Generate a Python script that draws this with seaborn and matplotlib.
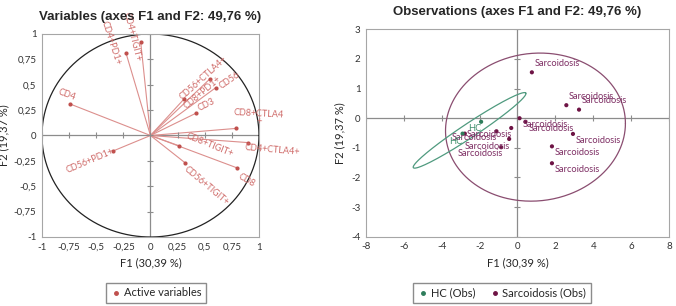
import numpy as np
import matplotlib
matplotlib.use("Agg")
import matplotlib.pyplot as plt
from matplotlib.lines import Line2D
import seaborn as sns

# correlation circle (variables)
var_names = ["CD4", "CD4+PD1+", "CD4+TIGIT+", "CD56+CTLA4+", "CD56", "CD8+PD1+", "CD3",
             "CD8+CTLA4\n+", "CD4+CTLA4+", "CD8+TIGIT+", "CD8", "CD56+TIGIT+", "CD56+PD1+"]
var_f1 = [-0.74, -0.225, -0.09, 0.55, 0.60, 0.31, 0.42, 0.79, 0.90, 0.26, 0.80, 0.32, -0.35]
var_f2 = [0.31, 0.81, 0.92, 0.56, 0.47, 0.36, 0.22, 0.07, -0.07, -0.10, -0.32, -0.27, -0.155]

# observations
obs_group = ["Sarcoidosis"] * 13 + ["HC"] * 2
obs_f1 = [0.76, 2.58, 3.25, 0.11, 0.42, -0.33, -1.11, -0.44, -0.86, 2.93, 1.82, 1.82, -2.78,
          -1.92, -2.90]
obs_f2 = [1.55, 0.44, 0.29, 0.0, -0.12, -0.33, -0.44, -0.70, -0.98, -0.53, -0.95, -1.52, -0.52,
          -0.12, -0.52]

# confidence ellipses: centre, two semi-axis vectors
ell_groups = ["Sarcoidosis", "HC"]
ell_center = [(0.95, -0.30), (-2.53, -0.41)]
ell_a = [(4.75, 0.126), (2.97, 1.26)]
ell_b = [(0.0, 2.497), (0.21, -0.20)]

# label placement (offset from point, rotation)
var_lab_dx = [-0.03, -0.135, -0.08, -0.06, 0.13, 0.165, 0.10, 0.21, 0.22, 0.29, 0.09, 0.20, -0.21]
var_lab_dy = [0.09, 0.10, 0.05, 0.01, 0.07, 0.06, 0.08, 0.105, -0.07, 0.01, -0.12, -0.23, -0.095]
var_lab_rot = [-20, -72, -76, 42, 35, 40, 27, -3, -5, -22, -30, -40, 23]
obs_lab_dx = [0.15, 0.15, 0.15, 0.17, 0.18, None, -1.57, -2.33, -2.31, 0.15, 0.15, 0.15, -0.69,
              -0.67, -0.70]
obs_lab_dy = [0.30, 0.30, 0.30, -0.20, -0.22, None, -0.10, -0.24, -0.21, -0.22, -0.22, -0.20, -0.14,
              -0.23, -0.25]

RED = "#c0504d"
RED_LINE = "#dc8f8d"
RED_TXT = "#cf6a68"
COLORS = {"Sarcoidosis": "#6e1445", "HC": "#2e7d5b"}
TXT_COLORS = {"Sarcoidosis": "#7d2d63", "HC": "#3f8f6c"}
ELL_COLORS = {"Sarcoidosis": "#8a4d70", "HC": "#4f9a7f"}

sns.set_style("white")
plt.rcParams["font.family"] = ["Lato", "DejaVu Sans"]

fig = plt.figure(figsize=(6.76, 3.06), dpi=100)
ax1 = fig.add_axes([0.0621, 0.2255, 0.321, 0.6634])
ax2 = fig.add_axes([0.5414, 0.2265, 0.4482, 0.6775])


def comma(v):
    return f"{v:g}".replace(".", ",")


# ---- left: variables ----
for x, y in zip(var_f1, var_f2):
    ax1.plot([0, x], [0, y], color=RED_LINE, lw=0.8, zorder=2)
t = np.linspace(0, 2 * np.pi, 400)
ax1.plot(np.cos(t), np.sin(t), color="#222222", lw=0.9, zorder=1)
ax1.axhline(0, color="#8c8c8c", lw=0.9, zorder=0)
ax1.axvline(0, color="#8c8c8c", lw=0.9, zorder=0)
ticks1 = np.arange(-1, 1.01, 0.25)
ax1.plot(np.zeros(len(ticks1)), ticks1, ls="none", marker="_", ms=4, color="#8c8c8c", mew=0.8)
ax1.plot(ticks1, np.zeros(len(ticks1)), ls="none", marker="|", ms=4, color="#8c8c8c", mew=0.8)
sns.scatterplot(x=var_f1, y=var_f2, ax=ax1, color=RED, s=9, linewidth=0, zorder=3)
for name, x, y, dx, dy, r in zip(var_names, var_f1, var_f2, var_lab_dx, var_lab_dy, var_lab_rot):
    ax1.text(x + dx, y + dy, name, rotation=r, rotation_mode="anchor", ha="center", va="center",
             fontsize=6.5, color=RED_TXT, clip_on=False, linespacing=0.9)
ax1.set_xlim(-1, 1)
ax1.set_ylim(-1, 1)
ax1.set_xticks(ticks1)
ax1.set_yticks(ticks1)
ax1.set_xticklabels([comma(v) for v in ticks1])
ax1.set_yticklabels([comma(v) for v in ticks1])
ax1.set_title("Variables (axes F1 and F2: 49,76 %)", fontsize=9.5, fontweight="bold",
              family="Liberation Sans", pad=10)
ax1.set_xlabel("F1 (30,39 %)", fontsize=8)
ax1.set_ylabel("F2 (19,37 %)", fontsize=8, labelpad=3)
ax1.legend(handles=[Line2D([], [], ls="none", marker="o", ms=2.5, color=RED,
                           label="Active variables")],
           loc="center", bbox_to_anchor=(156 / 676, 1 - 293 / 306), bbox_transform=fig.transFigure,
           fancybox=False, edgecolor="#6f6f6f", fontsize=8, handletextpad=0.2, handlelength=1.0,
           borderpad=0.4)

# ---- right: observations ----
ax2.axhline(0, color="#8c8c8c", lw=0.9, zorder=0)
ax2.axvline(0, color="#8c8c8c", lw=0.9, zorder=0)
yt2 = np.arange(-4, 3.1, 1)
xt2 = np.arange(-8, 8.1, 2)
ax2.plot(np.zeros(len(yt2)), yt2, ls="none", marker="_", ms=5, color="#8c8c8c", mew=0.8)
ax2.plot(xt2, np.zeros(len(xt2)), ls="none", marker="|", ms=5, color="#8c8c8c", mew=0.8)
for g, c, a, b in zip(ell_groups, ell_center, ell_a, ell_b):
    ex = c[0] + a[0] * np.cos(t) + b[0] * np.sin(t)
    ey = c[1] + a[1] * np.cos(t) + b[1] * np.sin(t)
    ax2.plot(ex, ey, color=ELL_COLORS[g], lw=0.9, zorder=1)
sns.scatterplot(x=obs_f1, y=obs_f2, hue=obs_group, palette=COLORS, ax=ax2, s=9, linewidth=0,
                legend=False, zorder=3)
for g, x, y, dx, dy in zip(obs_group, obs_f1, obs_f2, obs_lab_dx, obs_lab_dy):
    if dx is None:
        continue
    ax2.text(x + dx, y + dy, g, ha="left", va="center", fontsize=6.7, color=TXT_COLORS[g])
ax2.set_xlim(-8, 8)
ax2.set_ylim(-4, 3)
ax2.set_xticks(xt2)
ax2.set_yticks(yt2)
ax2.set_xticklabels([comma(v) for v in xt2])
ax2.set_yticklabels([comma(v) for v in yt2])
ax2.set_title("Observations (axes F1 and F2: 49,76 %)", fontsize=9.5, fontweight="bold",
              family="Liberation Sans", pad=10)
ax2.set_xlabel("F1 (30,39 %)", fontsize=8)
ax2.set_ylabel("F2 (19,37 %)", fontsize=8, labelpad=4)
ax2.legend(handles=[Line2D([], [], ls="none", marker="o", ms=2.5, color=COLORS["HC"],
                           label="HC (Obs)"),
                    Line2D([], [], ls="none", marker="o", ms=2.5, color=COLORS["Sarcoidosis"],
                           label="Sarcoidosis (Obs)")],
           loc="center", bbox_to_anchor=(502 / 676, 1 - 293 / 306), bbox_transform=fig.transFigure,
           ncol=2, fancybox=False, edgecolor="#6f6f6f", fontsize=8, handletextpad=0.2,
           handlelength=1.0, columnspacing=1.2, borderpad=0.4)

for ax in (ax1, ax2):
    for s in ax.spines.values():
        s.set_color("#a6a6a6")
        s.set_linewidth(0.8)
    ax.tick_params(length=0, labelsize=7, pad=4, colors="#333333")

fig.savefig("out.png", dpi=100)
